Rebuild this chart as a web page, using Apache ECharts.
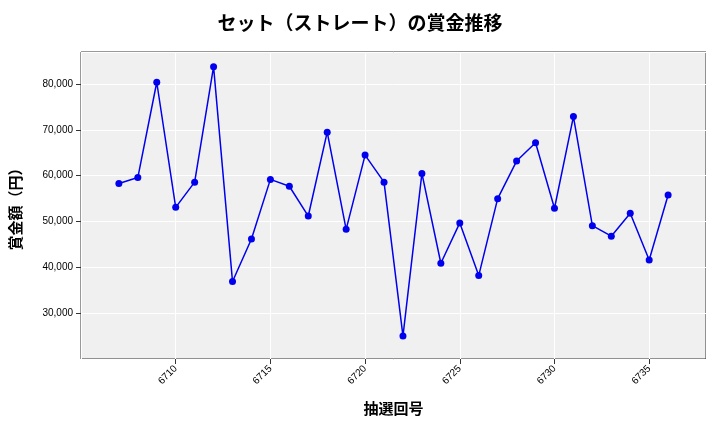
<!DOCTYPE html>
<html>
<head>
<meta charset="utf-8">
<script src="https://cdn.jsdelivr.net/npm/echarts@6/dist/echarts.min.js"></script>
<style>html,body{margin:0;padding:0;background:#fff}#chart{width:720px;height:432px}</style>
</head>
<body>
<div id="chart"></div>
<script>
var draws = [6707,6708,6709,6710,6711,6712,6713,6714,6715,6716,6717,6718,6719,6720,6721,
             6722,6723,6724,6725,6726,6727,6728,6729,6730,6731,6732,6733,6734,6735,6736];
var prizes = [58300,59600,80400,53100,58600,83800,36900,46200,59200,57700,51200,69500,48300,64500,58600,
              25000,60500,40900,49700,38200,55000,63200,67200,52900,72900,49100,46800,51800,41600,55800];

var chart = echarts.init(document.getElementById('chart'));
var font = '"Noto Sans CJK JP", "DejaVu Sans", sans-serif';

var points = [];
for (var i = 0; i < draws.length; i++) {
  points.push([draws[i], prizes[i]]);
}

var option = {
  animation: false,
  title: {
    text: 'セット（ストレート）の賞金推移',
    left: 'center',
    top: 8,
    textStyle: { fontFamily: font, fontSize: 19, fontWeight: 'bold', color: '#000' }
  },
  grid: {
    left: 81, right: 14, top: 52, bottom: 73,
    show: true, backgroundColor: '#f0f0f0', borderColor: '#333', borderWidth: 1
  },
  xAxis: {
    type: 'value',
    min: 6705, max: 6738, interval: 5,
    name: '抽選回号',
    nameLocation: 'middle',
    nameGap: 42,
    nameTextStyle: { fontFamily: font, fontSize: 15, fontWeight: 'bold', color: '#000' },
    axisLine: { show: false },
    axisTick: { show: true, lineStyle: { color: '#333' } },
    axisLabel: {
      rotate: 45, fontSize: 10, color: '#000', showMinLabel: false, showMaxLabel: false,
      formatter: function (v) { return String(v); }
    },
    splitLine: { show: true, lineStyle: { color: '#fff', width: 1 } }
  },
  yAxis: {
    type: 'value',
    min: 20000, max: 87000, interval: 10000,
    name: '賞金額（円）',
    nameLocation: 'middle',
    nameGap: 58,
    nameTextStyle: { fontFamily: font, fontSize: 15, fontWeight: 'bold', color: '#000' },
    axisLine: { show: false },
    axisTick: { show: true, lineStyle: { color: '#333' } },
    axisLabel: {
      fontSize: 10, color: '#000', showMinLabel: false, showMaxLabel: false,
      formatter: function (v) { return v.toLocaleString('en-US'); }
    },
    splitLine: { show: true, lineStyle: { color: '#fff', width: 1 } }
  },
  series: [{
    type: 'line',
    data: points,
    symbol: 'circle',
    symbolSize: 7,
    lineStyle: { color: '#0000ee', width: 1.5 },
    itemStyle: { color: '#0000ee' }
  }]
};

chart.setOption(option);
</script>
</body>
</html>
